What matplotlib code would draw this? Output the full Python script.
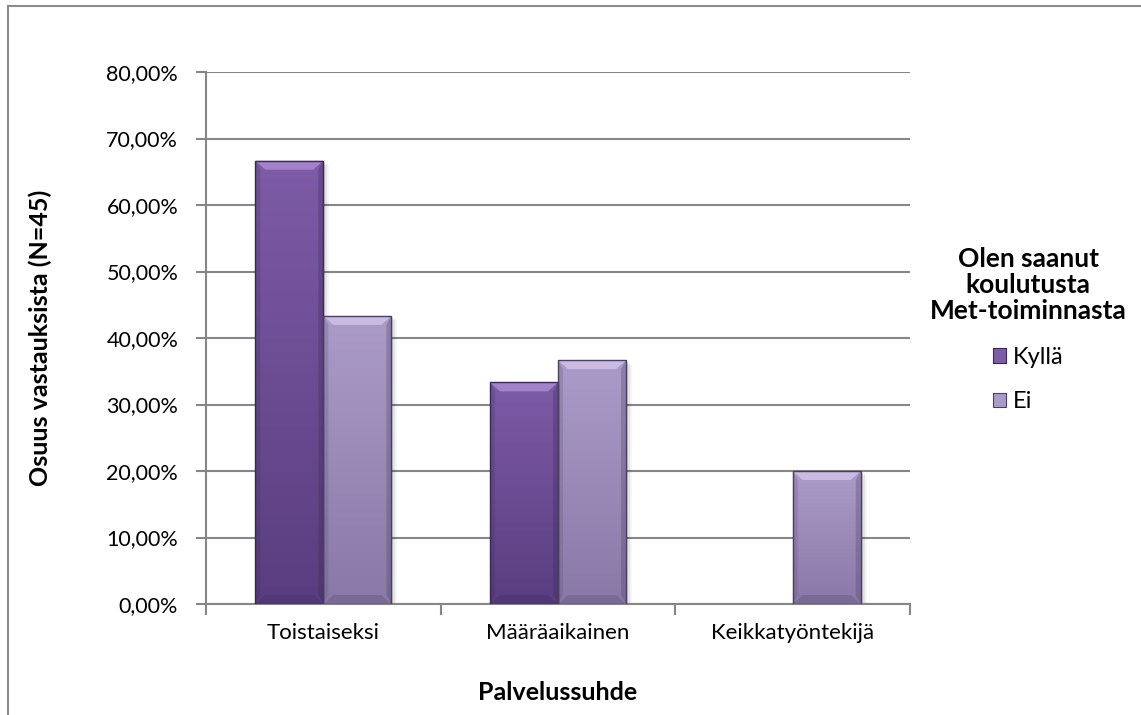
import numpy as np
import matplotlib
matplotlib.use('Agg')
import matplotlib.pyplot as plt
from matplotlib.patches import Polygon, Rectangle, Patch
from matplotlib.lines import Line2D
from matplotlib.ticker import FuncFormatter, MultipleLocator

categories = ['Toistaiseksi', 'Määräaikainen', 'Keikkatyöntekijä']
kylla = [66.67, 33.33, 0.0]
ei = [43.33, 36.67, 20.0]
series_names = ['Kyllä', 'Ei']
legend_title = 'Olen saanut\nkoulutusta\nMet-toiminnasta'

plt.rcParams['font.family'] = ['Lato', 'DejaVu Sans']

W, H = 1141, 715
fig = plt.figure(figsize=(W / 100, H / 100), dpi=100)
ax = fig.add_axes([206 / W, 1 - 604 / H, 704 / W, 532 / H])

x = np.arange(len(categories))
width = 0.29
ax.set_xlim(-0.5, 2.5)
ax.set_ylim(0, 80)

# colours: (top, bottom, bevel light, edge)
styles = {
  'Kyllä': ('#7d5ba6', '#5a3d80', '#a98bd0', '#3a2856'),
  'Ei': ('#ab9bc8', '#8a79a8', '#cfc2e6', '#4a4060'),
}

def px_to_data(dx, dy):
  inv = ax.transData.inverted()
  (x0, y0), (x1, y1) = inv.transform([(0, 0), (dx, dy)])
  return x1 - x0, y1 - y0

def draw_bar(xc, h, name):
  if h <= 0:
    return
  top, bot, light, edge = styles[name]
  x0, x1 = xc - width / 2, xc + width / 2
  # soft shadow to the right
  sx, sy = px_to_data(4, 3)
  for k, a in enumerate([0.10, 0.07, 0.04]):
    ax.add_patch(Rectangle((x0 + sx * (k + 1) / 2, 0), width, h - sy * (k + 1) / 2,
                           fc='#000000', alpha=a, lw=0, zorder=2))
  rect = Rectangle((x0, 0), width, h, fc=top, ec='none', zorder=3)
  ax.add_patch(rect)
  grad = np.linspace(0, 1, 100).reshape(-1, 1)
  cmap = matplotlib.colors.LinearSegmentedColormap.from_list('g', [bot, top])
  im = ax.imshow(grad, extent=(x0, x1, 0, h), origin='lower', cmap=cmap,
                 aspect='auto', zorder=3.1)
  im.set_clip_path(rect)
  bx, by = px_to_data(10, 9)
  by = min(by, h / 4)
  # top bevel
  ax.add_patch(Polygon([(x0, h), (x1, h), (x1 - bx, h - by), (x0 + bx, h - by)],
                       closed=True, fc=light, ec='none', alpha=0.85, zorder=3.2))
  # bottom bevel
  ax.add_patch(Polygon([(x0, 0), (x1, 0), (x1 - bx, by), (x0 + bx, by)],
                       closed=True, fc=edge, ec='none', alpha=0.25, zorder=3.2))
  # side bevels
  ax.add_patch(Polygon([(x0, 0), (x0 + bx * 0.5, by), (x0 + bx * 0.5, h - by), (x0, h)],
                       closed=True, fc=edge, ec='none', alpha=0.2, zorder=3.2))
  ax.add_patch(Polygon([(x1, 0), (x1 - bx * 0.5, by), (x1 - bx * 0.5, h - by), (x1, h)],
                       closed=True, fc=edge, ec='none', alpha=0.3, zorder=3.2))
  ax.add_patch(Rectangle((x0, 0), width, h, fc='none', ec=edge, lw=1.0, zorder=3.3))

for i in range(len(categories)):
  draw_bar(x[i] - width / 2, kylla[i], 'Kyllä')
  draw_bar(x[i] + width / 2, ei[i], 'Ei')

ax.yaxis.set_major_locator(MultipleLocator(10))
ax.yaxis.set_major_formatter(FuncFormatter(lambda v, p: f'{v:.2f}%'.replace('.', ',')))
ax.grid(axis='y', color='#868686', lw=1.5, zorder=1)
ax.set_axisbelow(True)

ax.set_xticks(np.arange(len(categories) + 1) - 0.5)
ax.set_xticklabels([])
ax.set_xticks(x, minor=True)
ax.set_xticklabels(categories, minor=True)
ax.tick_params(axis='x', which='major', length=8, width=1.5, color='#868686')
ax.tick_params(axis='x', which='minor', length=0, pad=14, labelsize=16)
ax.tick_params(axis='y', length=7, width=1.5, color='#868686', labelsize=15.5, pad=13)

for s in ['top', 'right']:
  ax.spines[s].set_visible(False)
for s in ['left', 'bottom']:
  ax.spines[s].set_color('#868686')
  ax.spines[s].set_linewidth(1.5)

# axis titles
fig.text(40 / W, 1 - 338 / H, 'Osuus vastauksista (N=45)', rotation=90,
         ha='center', va='center', fontsize=18, fontweight='bold')
fig.text(558 / W, 1 - 692 / H, 'Palvelussuhde', ha='center', va='center',
         fontsize=18, fontweight='bold')

handles = [Patch(fc=styles[n][0], ec=styles[n][3], lw=0.8) for n in series_names]
leg = fig.legend(handles, series_names, title=legend_title, loc='upper center',
                 bbox_to_anchor=(1028 / W, 1 - 226 / H), frameon=False, fontsize=17,
                 title_fontproperties={'weight': 'bold', 'size': 19},
                 handlelength=0.55, handleheight=0.55, handletextpad=0.3, labelspacing=1.0)
leg._legend_box.align = 'center'
leg.get_title().set_multialignment('center')
leg.get_title().set_linespacing(1.1)

# chart frame
fig.add_artist(Line2D([8 / W, 8 / W], [0, 1 - 6 / H], color='#8c8c8c', lw=1.5))
fig.add_artist(Line2D([8 / W, 1], [1 - 6 / H, 1 - 6 / H], color='#8c8c8c', lw=1.5))

fig.savefig('out.png', dpi=100)
